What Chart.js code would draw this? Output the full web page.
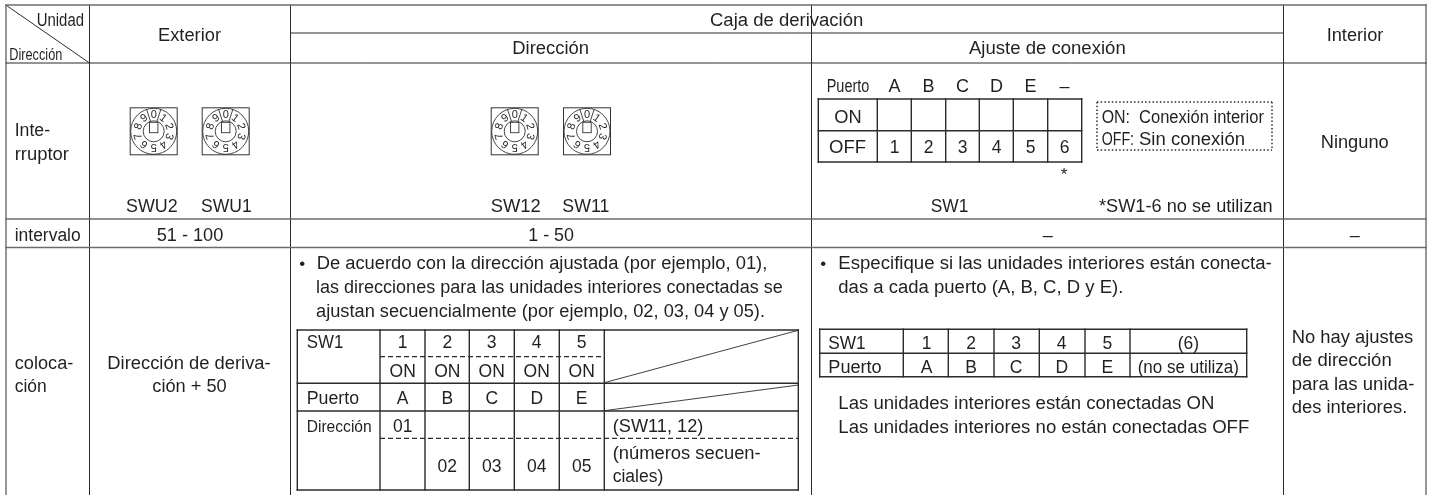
<!DOCTYPE html>
<html lang="es">
<head>
<meta charset="utf-8">
<style>
html,body{margin:0;padding:0;background:#fff;overflow:hidden}
#wrap{width:1433px;height:495px}
canvas{display:block;filter:blur(.35px)}
</style>
<script src="https://cdn.jsdelivr.net/npm/chart.js@4"></script>
</head>
<body>
<div id="wrap"><canvas id="c" width="1433" height="495"></canvas></div>
<script>
// --- table content ---
const ports = ['A','B','C','D','E'];
const switchNumbers = ['1','2','3','4','5'];
const sequentialAddresses = ['02','03','04','05'];
const offSwitchNumbers = ['1','2','3','4','5','6'];
const portHeader = ['A','B','C','D','E','–'];
const dialDigits = ['0','1','2','3','4','5','6','7','8','9'];

// --- layout helpers (page pixels on the chart's linear scales) ---
const INK='#231f20', GREY='#6b6b6b', DARK='#2b2b2b';
const datasets=[];
function seg(x0,y0,x1,y1,color,w,dash){
  datasets.push({data:[{x:x0,y:y0},{x:x1,y:y1}],showLine:true,pointRadius:0,borderColor:color,borderWidth:w,borderDash:dash||[],borderCapStyle:dash?'butt':'square',tension:0});
}
// main grid
[5,219,247.5].forEach(y=>seg(6,y,1426,y,GREY,1.6));
seg(290,33,1283,33,DARK,1);
seg(6,63,1426,63,DARK,1);
[6,89.5,290.5,811.5,1283.5,1426].forEach(x=>{ seg(x,5,x,495,x===6||x===1426?GREY:DARK,x===6||x===1426?1.4:1); });
seg(6.5,5.5,89.5,63,DARK,1);
// ON/OFF switch table
[99,130.7,162].forEach(y=>seg(818.3,y,1081.7,y,DARK,1.4));
[818.3,877.3,911.3,945.7,979.3,1013.3,1047.7,1081.7].forEach(x=>seg(x,99,x,162,DARK,1.4));
// dotted legend box
const dot=[1.5,2.2];
seg(1097,102,1272,102,DARK,1.5,dot); seg(1097,150,1272,150,DARK,1.5,dot);
seg(1097,102,1097,150,DARK,1.5,dot); seg(1272,102,1272,150,DARK,1.5,dot);
// address table
const ax=[380,425,469.3,514.3,559.3,604.3];
[330,383.3,411,490].forEach(y=>seg(297.3,y,798.3,y,DARK,1.4));
[297.3,...ax,798.3].forEach(x=>seg(x,330,x,490,DARK,1.4));
seg(380,356.7,604.3,356.7,DARK,1.2,[5,3]);
seg(380,438.3,798.3,438.3,DARK,1.2,[5,3]);
seg(604.3,382.7,798.3,330.3,DARK,.9);
seg(604.3,410.7,798.3,385,DARK,.9);
// port table
[329.3,353.3,376.7].forEach(y=>seg(819.7,y,1246.7,y,DARK,1.4));
[819.7,903.3,948.3,994,1039.3,1085,1130,1246.7].forEach(x=>seg(x,329.3,x,376.7,DARK,1.4));

// --- text ---
const F='"Liberation Sans", Arial, sans-serif';
const fitted=[ // text, x0, x1, baseline, size
 ['Unidad',36.7,84,26,17.5],['Dirección',9.3,62.3,60,16],['Exterior',158,221,41,18],
 ['Caja de derivación',710,863.3,25.5,18],['Interior',1326.7,1383.3,40.7,18],
 ['Dirección',512.3,589,54,18],['Ajuste de conexión',969,1125.7,54,18],
 ['Inte-',14.7,50,135.7,18],['rruptor',14.7,69,160,18],
 ['SWU2',126,177.7,212,18],['SWU1',201,251.7,212,18],['SW12',490.7,540.7,212,18],['SW11',562.3,609.3,212,18],
 ['SW1',930.7,968.3,212,18],['*SW1-6 no se utilizan',1099,1272.7,212,18],
 ['Puerto',826.7,869.3,92.3,18],['ON',834.3,861.7,122.7,18],['OFF',829,866,153.3,18],
 ['ON:',1101.7,1130,122.7,18],['Conexión interior',1139,1264,122.7,18],
 ['OFF:',1101.7,1134,145.3,18],['Sin conexión',1139,1245,145.3,18],['Ninguno',1320.7,1388.7,147.7,18],
 ['intervalo',14.7,80.7,240.7,18],['51 - 100',156.7,223.3,240.7,18],['1 - 50',528.3,574,240.7,18],
 ['coloca-',14.7,73.3,369,18],['ción',14.7,46.7,391.7,18],
 ['Dirección de deriva-',107.3,270.7,369,18],['ción + 50',152.3,226.7,391.7,18],
 ['De acuerdo con la dirección ajustada (por ejemplo, 01),',316.7,767.3,269,18],
 ['las direcciones para las unidades interiores conectadas se',316,782.7,293,18],
 ['ajustan secuencialmente (por ejemplo, 02, 03, 04 y 05).',316,765,316.7,18],
 ['SW1',306.7,343.3,348.3,17.5],['Puerto',306.7,359,404.3,18],['Dirección',306.7,371.7,431.7,16.5],
 ['(SW11, 12)',612.7,703.3,431.7,18],['(números secuen-',612.7,760.7,459,18],['ciales)',612.7,663.3,482.3,18],
 ['Especifique si las unidades interiores están conecta-',838.3,1271.7,269,18],
 ['das a cada puerto (A, B, C, D y E).',838.3,1123.3,292.7,18],
 ['SW1',828.3,865.7,349.3,18],['Puerto',828.3,881.7,373.3,18],['(6)',1177.7,1199,349.3,18],['(no se utiliza)',1137.7,1239,373.3,18],
 ['Las unidades interiores están conectadas ON',838.3,1214.3,409,18],
 ['Las unidades interiores no están conectadas OFF',838.3,1249.3,432.7,18],
 ['No hay ajustes',1291.7,1413.3,343.3,18],['de dirección',1291.7,1391.7,366,18],
 ['para las unida-',1291.7,1414.3,389.5,18],['des interiores.',1291.7,1407.3,413,18]
];
const centered=[ // text, x centre, baseline, size
 ['–',1047.7,240.7,18],['–',1354.7,240.7,18],['*',1064,180,17],['•',302.3,268.5,17],['•',823.3,268.5,17],
 ['01',402.7,431.7,17.5]
];
[894.5,928.5,962.5,996.5,1030.5,1064.5].forEach((x,i)=>{
  centered.push([portHeader[i],x,92.3,18]);
  centered.push([offSwitchNumbers[i],x,153.3,17.5]);
});
[402.7,447.3,491.7,536.7,581.7].forEach((x,i)=>{
  centered.push([switchNumbers[i],x,348.3,17.5]);
  centered.push(['ON',x,376.7,17.5]);
  centered.push([ports[i],x,404.3,17.5]);
  if(i>0) centered.push([sequentialAddresses[i-1],x,471.7,17.5]);
});
[926.7,971,1016,1061.7,1107.3].forEach((x,i)=>{
  centered.push([switchNumbers[i],x,349.3,17.5]);
  centered.push([ports[i],x,373.3,17.5]);
});
const dials=[[153.7,131.3],[225.7,131.3],[514.7,131.3],[587,131.3]];

const tablePlugin={
  id:'table',
  afterDatasetsDraw(chart){
    const c=chart.ctx, X=chart.scales.x, Y=chart.scales.y;
    const px=v=>X.getPixelForValue(v), py=v=>Y.getPixelForValue(v);
    c.save();
    c.fillStyle=INK; c.textBaseline='alphabetic';
    fitted.forEach(([t,x0,x1,b,s])=>{
      c.save();
      c.font=s+'px '+F; c.textAlign='left';
      const m=c.measureText(t).width;
      c.translate(px(x0),py(b)); c.scale((px(x1)-px(x0))/m,1);
      c.fillText(t,0,0);
      c.restore();
    });
    c.textAlign='center';
    centered.forEach(([t,x,b,s])=>{ c.font=s+'px '+F; c.fillText(t,px(x),py(b)); });
    // rotary dials
    dials.forEach(([dx,dy])=>{
      const x=px(dx), y=py(dy);
      c.strokeStyle='#333'; c.lineWidth=1;
      c.strokeRect(x-23.5,y-23.5,47,47);
      c.lineWidth=.9;
      c.beginPath(); c.arc(x,y,23,0,Math.PI*2); c.stroke();
      c.beginPath(); c.arc(x,y,10.5,0,Math.PI*2); c.stroke();
      [-18,18].forEach(a=>{
        const r=a*Math.PI/180;
        c.beginPath(); c.moveTo(x+Math.sin(r)*10.5,y-Math.cos(r)*10.5);
        c.lineTo(x+Math.sin(r)*23,y-Math.cos(r)*23); c.stroke();
      });
      c.fillStyle='#fff';
      c.fillRect(x-4.2,y-9,8.4,10.4); c.strokeRect(x-4.2,y-9,8.4,10.4);
      c.fillStyle=INK; c.font='11px '+F; c.textBaseline='middle'; c.textAlign='center';
      dialDigits.forEach((d,i)=>{
        const r=i*36*Math.PI/180;
        c.save(); c.translate(x+Math.sin(r)*16.5,y-Math.cos(r)*16.5); c.rotate(r);
        c.fillText(d,0,0.5); c.restore();
      });
      c.textBaseline='alphabetic';
    });
    c.restore();
  }
};

new Chart(document.getElementById('c'),{
  type:'scatter',
  data:{datasets},
  plugins:[tablePlugin],
  options:{
    responsive:false,animation:false,
    layout:{padding:0},
    plugins:{legend:{display:false},tooltip:{enabled:false},title:{display:false}},
    scales:{
      x:{type:'linear',min:0,max:1433,display:false},
      y:{type:'linear',min:0,max:495,reverse:true,display:false}
    }
  }
});
</script>
</body>
</html>
